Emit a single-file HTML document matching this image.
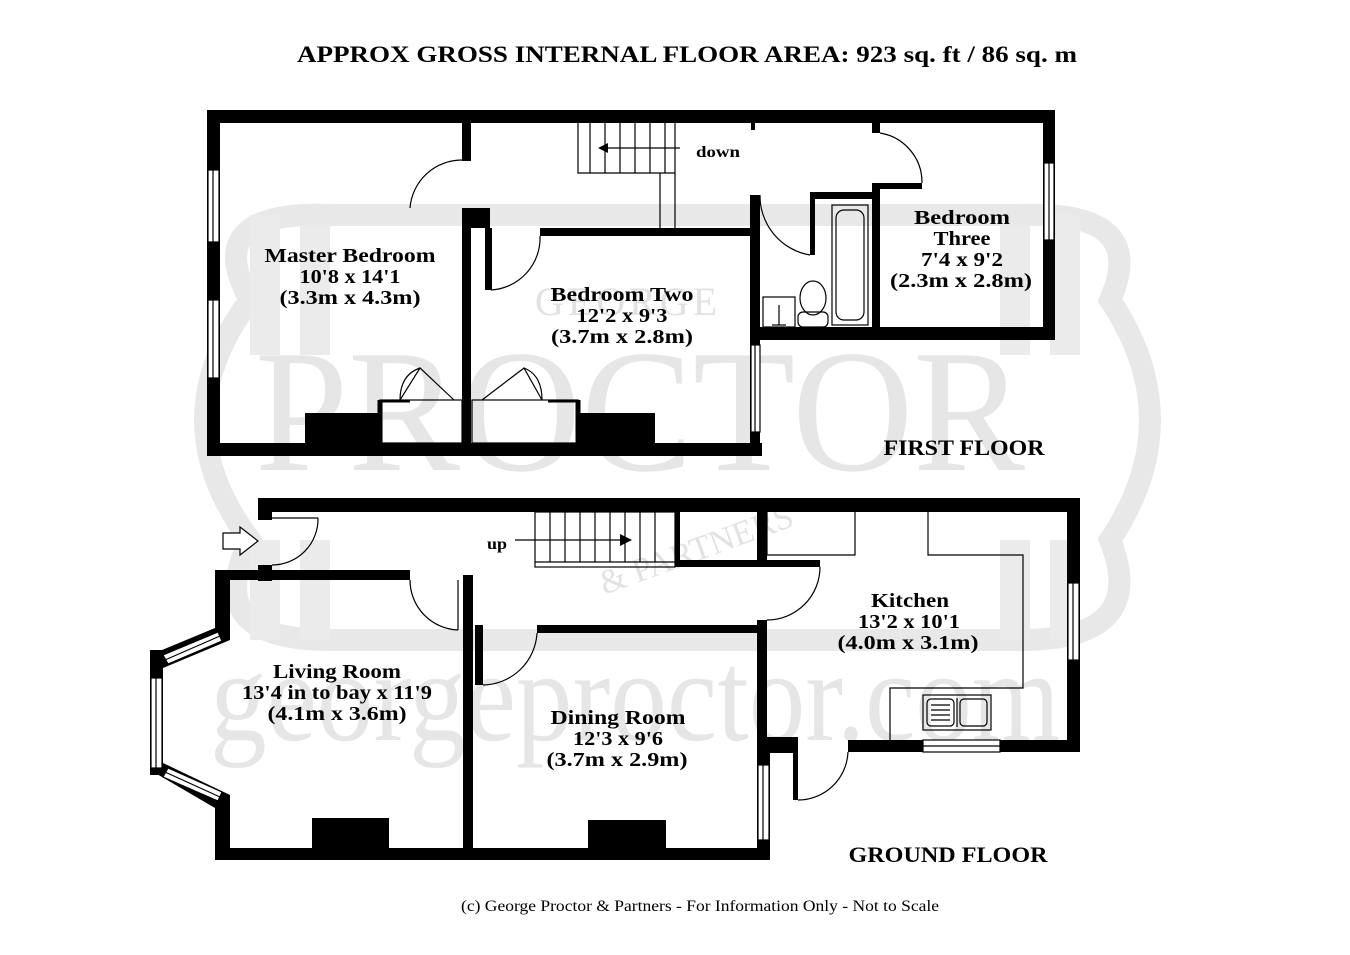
<!DOCTYPE html>
<html><head><meta charset="utf-8"><style>
html,body{margin:0;padding:0;background:#fff;}
svg{display:block;}
.t{font-family:"Liberation Serif",serif;font-weight:bold;fill:#000;}
</style></head><body>
<svg width="1350" height="955" viewBox="0 0 1350 955" xmlns="http://www.w3.org/2000/svg">
<!-- watermark -->
<g fill="none" stroke="#e8e8e8" stroke-width="22">
<path d="M250 300 Q200 210 330 215 L1020 215 Q1150 210 1110 300 Q1190 420 1110 540 Q1150 640 1020 640 L330 640 Q200 640 250 540 Q160 420 250 300 Z"/>
</g>
<g fill="#ebebeb">
<rect x="250" y="215" width="30" height="140"/><rect x="300" y="225" width="30" height="130"/>
<rect x="1000" y="225" width="30" height="130"/><rect x="1050" y="215" width="30" height="140"/>
<rect x="250" y="540" width="30" height="100"/><rect x="300" y="540" width="30" height="100"/>
<rect x="1000" y="540" width="30" height="100"/><rect x="1050" y="540" width="30" height="100"/>
</g>
<text x="640" y="470" text-anchor="middle" font-family="Liberation Serif,serif" font-size="175" fill="#e6e6e6" textLength="770" lengthAdjust="spacingAndGlyphs">PROCTOR</text>
<text x="635" y="740" text-anchor="middle" font-family="Liberation Serif,serif" font-size="130" fill="#e6e6e6" textLength="850" lengthAdjust="spacingAndGlyphs">georgeproctor.com</text>
<text x="628" y="315" text-anchor="middle" font-family="Liberation Serif,serif" font-size="40" fill="#e2e2e2" letter-spacing="4">GEORGE</text>
<text x="700" y="560" text-anchor="middle" font-family="Liberation Serif,serif" font-size="34" fill="#e2e2e2" transform="rotate(-20 700 560)">&amp; PARTNERS</text>

<text class="t" x="687" y="62" text-anchor="middle" font-size="23" textLength="780" lengthAdjust="spacingAndGlyphs">APPROX GROSS INTERNAL FLOOR AREA: 923 sq. ft / 86 sq. m</text>

<!-- FIRST FLOOR walls -->
<g fill="#000">
<rect x="207" y="110" width="848" height="13"/>
<rect x="207" y="110" width="13" height="346"/>
<rect x="207" y="443" width="555" height="13"/>
<rect x="1043" y="110" width="12" height="230"/>
<rect x="750" y="327" width="305" height="13"/>
<rect x="750" y="195" width="10" height="260"/>
<rect x="462" y="123" width="9" height="38"/>
<rect x="462" y="208" width="9" height="235"/>
<rect x="462" y="208" width="28" height="20"/>
<rect x="485" y="228" width="7" height="62"/>
<rect x="540" y="228" width="215" height="8"/>
<rect x="810" y="192" width="67" height="7"/>
<rect x="810" y="192" width="5" height="63"/>
<rect x="872" y="123" width="8" height="10"/>
<rect x="872" y="183" width="8" height="150"/>
<rect x="872" y="183" width="50" height="6"/>
<rect x="751" y="123" width="4" height="7"/>
<rect x="305" y="413" width="75" height="30"/>
<rect x="578" y="413" width="77" height="30"/>
</g>
<g fill="none" stroke="#000" stroke-width="1.2">
<rect x="208" y="170" width="11" height="72" fill="#fff"/><line x1="213" y1="170" x2="213" y2="242"/>
<rect x="208" y="300" width="11" height="78" fill="#fff"/><line x1="213" y1="300" x2="213" y2="378"/>
<rect x="1044" y="163" width="10" height="77" fill="#fff"/><line x1="1049" y1="163" x2="1049" y2="240"/>
<rect x="751" y="345" width="9" height="87" fill="#fff"/><line x1="755" y1="345" x2="755" y2="432"/>
<polyline points="578,123 578,173 675,173 675,123"/>
<line x1="660" y1="173" x2="660" y2="228"/><line x1="675" y1="173" x2="675" y2="228"/>
<line x1="590" y1="123" x2="590" y2="173"/><line x1="605" y1="123" x2="605" y2="173"/>
<line x1="620" y1="123" x2="620" y2="173"/><line x1="635" y1="123" x2="635" y2="173"/>
<line x1="650" y1="123" x2="650" y2="173"/><line x1="665" y1="123" x2="665" y2="173"/>
<line x1="600" y1="148" x2="680" y2="148"/>
<path d="M410 208 A52 52 0 0 1 462 160"/>
<line x1="491" y1="290" x2="491" y2="236"/>
<path d="M491 290 A52 52 0 0 0 540 236"/>
<path d="M760 195 A60 60 0 0 0 810 255"/>
<path d="M880 133 A50 50 0 0 1 922 183"/>
<rect x="380" y="400" width="82" height="43"/>
<rect x="472" y="400" width="106" height="43"/>
<line x1="380" y1="400" x2="380" y2="443" stroke-width="5"/>
<line x1="578" y1="400" x2="578" y2="443" stroke-width="5"/>
<line x1="380" y1="401" x2="410" y2="401" stroke-width="3"/><line x1="548" y1="401" x2="578" y2="401" stroke-width="3"/>
<path d="M400 400 L420 368 L454 400"/><path d="M400 400 Q400 375 420 368"/>
<path d="M542 400 L524 368 L482 400"/><path d="M542 400 Q542 375 524 368"/>
<rect x="832" y="205" width="36" height="120"/>
<rect x="836" y="210" width="28" height="110" rx="8"/>
<ellipse cx="813" cy="298" rx="13" ry="17"/>
<rect x="798" y="312" width="30" height="15" rx="5"/>
<rect x="763" y="297" width="32" height="30"/>
<line x1="779" y1="305" x2="779" y2="325"/><line x1="772" y1="325" x2="786" y2="325"/>
</g>
<polygon points="598,148 608,143 608,153" fill="#000"/>
<text class="t" x="718" y="157" font-size="16" text-anchor="middle" font-weight="normal" textLength="44" lengthAdjust="spacingAndGlyphs">down</text>

<g font-size="20">
<text class="t" x="350" y="262" text-anchor="middle" textLength="171" lengthAdjust="spacingAndGlyphs">Master Bedroom</text>
<text class="t" x="350" y="283" text-anchor="middle" textLength="101" lengthAdjust="spacingAndGlyphs">10'8 x 14'1</text>
<text class="t" x="350" y="304" text-anchor="middle" textLength="141" lengthAdjust="spacingAndGlyphs">(3.3m x 4.3m)</text>
<text class="t" x="622" y="301" text-anchor="middle" textLength="143" lengthAdjust="spacingAndGlyphs">Bedroom Two</text>
<text class="t" x="622" y="322" text-anchor="middle" textLength="91" lengthAdjust="spacingAndGlyphs">12'2 x 9'3</text>
<text class="t" x="622" y="343" text-anchor="middle" textLength="142" lengthAdjust="spacingAndGlyphs">(3.7m x 2.8m)</text>
<text class="t" x="962" y="224" text-anchor="middle" textLength="96" lengthAdjust="spacingAndGlyphs">Bedroom</text>
<text class="t" x="962" y="245" text-anchor="middle" textLength="57" lengthAdjust="spacingAndGlyphs">Three</text>
<text class="t" x="962" y="266" text-anchor="middle" textLength="82" lengthAdjust="spacingAndGlyphs">7'4 x 9'2</text>
<text class="t" x="961" y="287" text-anchor="middle" textLength="142" lengthAdjust="spacingAndGlyphs">(2.3m x 2.8m)</text>
</g>
<text class="t" x="964" y="455" text-anchor="middle" font-size="22" textLength="161" lengthAdjust="spacingAndGlyphs">FIRST FLOOR</text>

<!-- GROUND FLOOR walls -->
<g fill="#000">
<rect x="258" y="498" width="822" height="14"/>
<rect x="258" y="498" width="14" height="22"/>
<rect x="258" y="565" width="14" height="16"/>
<rect x="1067" y="498" width="13" height="254"/>
<rect x="848" y="740" width="232" height="12"/>
<rect x="215" y="570" width="195" height="10"/>
<rect x="215" y="570" width="15" height="70"/>
<polygon points="215,628 230,640 163,668 150,655"/>
<rect x="150" y="650" width="13" height="125"/>
<polygon points="150,770 163,763 230,795 215,808"/>
<rect x="215" y="795" width="15" height="65"/>
<rect x="215" y="848" width="555" height="12"/>
<rect x="757" y="750" width="13" height="110"/>
<rect x="757" y="620" width="10" height="130"/>
<rect x="757" y="737" width="40" height="16"/>
<rect x="793" y="737" width="5" height="63"/>
<rect x="463" y="575" width="10" height="285"/>
<rect x="475" y="625" width="8" height="60"/>
<rect x="537" y="625" width="228" height="8"/>
<rect x="757" y="512" width="10" height="50"/>
<rect x="757" y="560" width="63" height="7"/>
<rect x="680" y="560" width="77" height="7"/>
<rect x="675" y="512" width="5" height="55"/>
<rect x="312" y="818" width="77" height="30"/>
<rect x="588" y="820" width="78" height="28"/>
</g>
<g fill="none" stroke="#000" stroke-width="1.2">
<polygon points="168,664 222,641 218,632 163,655" fill="#fff"/>
<line x1="165" y1="660" x2="220" y2="636"/>
<polygon points="168,768 222,792 218,801 163,777" fill="#fff"/>
<line x1="165" y1="772" x2="220" y2="797"/>
<rect x="151" y="678" width="11" height="90" fill="#fff"/><line x1="156" y1="678" x2="156" y2="768"/>
<rect x="1068" y="583" width="11" height="77" fill="#fff"/><line x1="1073" y1="583" x2="1073" y2="660"/>
<rect x="923" y="740" width="77" height="12" fill="#fff"/><line x1="923" y1="746" x2="1000" y2="746"/>
<rect x="758" y="765" width="11" height="75" fill="#fff"/><line x1="763" y1="765" x2="763" y2="840"/>
<rect x="535" y="512" width="140" height="55"/>
<line x1="550" y1="512" x2="550" y2="562"/><line x1="565" y1="512" x2="565" y2="562"/>
<line x1="580" y1="512" x2="580" y2="562"/><line x1="595" y1="512" x2="595" y2="562"/>
<line x1="610" y1="512" x2="610" y2="562"/><line x1="625" y1="512" x2="625" y2="562"/>
<line x1="640" y1="512" x2="640" y2="562"/><line x1="655" y1="512" x2="655" y2="562"/>
<line x1="535" y1="562" x2="675" y2="562"/>
<line x1="515" y1="540" x2="625" y2="540"/>
<path d="M318 518 A46 46 0 0 1 272 565"/>
<line x1="272" y1="518" x2="318" y2="518"/>
<line x1="458" y1="580" x2="458" y2="630"/>
<path d="M410 580 A50 50 0 0 0 458 630"/>
<path d="M483 685 A55 55 0 0 0 537 633"/>
<path d="M820 567 A53 53 0 0 1 767 620"/>
<path d="M798 800 A50 50 0 0 0 848 752"/>
<polyline points="767,512 767,555 855,555 855,512"/>
<polyline points="928,512 928,555 1023,555 1023,688 890,688 890,740"/>
<rect x="923" y="695" width="68" height="35"/>
<line x1="957" y1="698" x2="957" y2="727"/>
<rect x="927" y="699" width="27" height="27" rx="4"/>
<rect x="960" y="699" width="27" height="27" rx="4"/>
<line x1="931" y1="705" x2="950" y2="705"/><line x1="931" y1="710" x2="950" y2="710"/><line x1="931" y1="715" x2="950" y2="715"/><line x1="931" y1="720" x2="950" y2="720"/>
<polygon points="223,533 240,533 240,527 258,541 240,555 240,549 223,549" fill="#fff"/>
</g>
<polygon points="632,540 620,534 620,546" fill="#000"/>
<text class="t" x="497" y="549" text-anchor="middle" font-size="16" font-weight="normal" textLength="20" lengthAdjust="spacingAndGlyphs">up</text>

<g font-size="20">
<text class="t" x="337" y="678" text-anchor="middle" textLength="128" lengthAdjust="spacingAndGlyphs">Living Room</text>
<text class="t" x="337" y="699" text-anchor="middle" textLength="190" lengthAdjust="spacingAndGlyphs">13'4 in to bay x 11'9</text>
<text class="t" x="337" y="720" text-anchor="middle" textLength="139" lengthAdjust="spacingAndGlyphs">(4.1m x 3.6m)</text>
<text class="t" x="618" y="724" text-anchor="middle" textLength="135" lengthAdjust="spacingAndGlyphs">Dining Room</text>
<text class="t" x="618" y="745" text-anchor="middle" textLength="90" lengthAdjust="spacingAndGlyphs">12'3 x 9'6</text>
<text class="t" x="617" y="766" text-anchor="middle" textLength="141" lengthAdjust="spacingAndGlyphs">(3.7m x 2.9m)</text>
<text class="t" x="910" y="607" text-anchor="middle" textLength="78" lengthAdjust="spacingAndGlyphs">Kitchen</text>
<text class="t" x="909" y="628" text-anchor="middle" textLength="102" lengthAdjust="spacingAndGlyphs">13'2 x 10'1</text>
<text class="t" x="908" y="649" text-anchor="middle" textLength="141" lengthAdjust="spacingAndGlyphs">(4.0m x 3.1m)</text>
</g>
<text class="t" x="948" y="862" text-anchor="middle" font-size="22" textLength="199" lengthAdjust="spacingAndGlyphs">GROUND FLOOR</text>

<text x="700" y="911" text-anchor="middle" font-family="Liberation Serif,serif" font-size="16" fill="#000" textLength="478" lengthAdjust="spacingAndGlyphs">(c) George Proctor &amp; Partners - For Information Only - Not to Scale</text>
</svg>
</body></html>
